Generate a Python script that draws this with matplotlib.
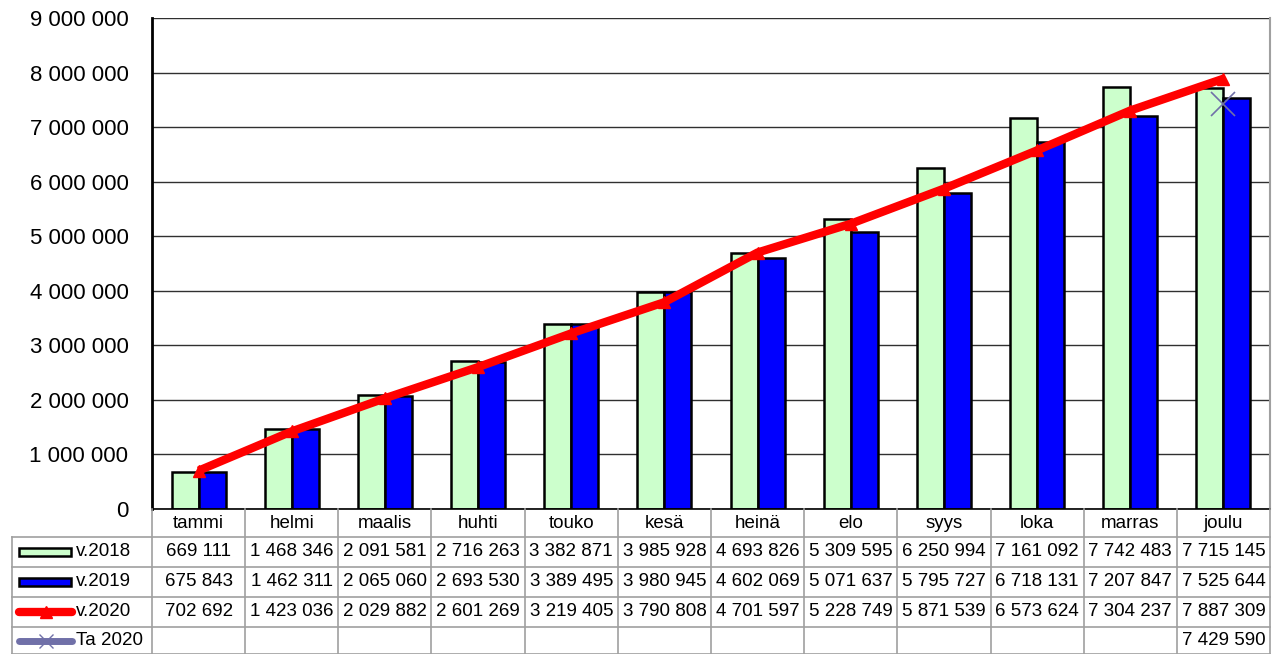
"""
Kumulatiivinen kuukausikertymä v.2018-2020 pylväs- ja viivakaaviona,
Excel-tyylinen datataulukko kaavion alla.
"""
import matplotlib.pyplot as plt
from matplotlib.lines import Line2D
from matplotlib.patches import Rectangle
from matplotlib.transforms import blended_transform_factory

months = ["tammi", "helmi", "maalis", "huhti", "touko", "kesä",
          "heinä", "elo", "syys", "loka", "marras", "joulu"]
v2018 = [669111, 1468346, 2091581, 2716263, 3382871, 3985928,
         4693826, 5309595, 6250994, 7161092, 7742483, 7715145]
v2019 = [675843, 1462311, 2065060, 2693530, 3389495, 3980945,
         4602069, 5071637, 5795727, 6718131, 7207847, 7525644]
v2020 = [702692, 1423036, 2029882, 2601269, 3219405, 3790808,
         4701597, 5228749, 5871539, 6573624, 7304237, 7887309]
ta2020_month = 11
ta2020_value = 7429590

W, H = 1279, 654
C18 = "#CCFFCC"
C19 = "#0000FF"
C20 = "#FF0000"
CTA = "#7070A8"
GRID = "#A0A0A0"

plt.rcParams["font.family"] = ["Liberation Sans", "DejaVu Sans"]


def fmt(v):
    return f"{v:,}".replace(",", " ")


def fx(px):
    return px / W


def fy(py):
    return 1 - py / H


fig = plt.figure(figsize=(W / 100, H / 100), dpi=100)
ax = fig.add_axes([fx(152), fy(509), fx(1270) - fx(152), fy(18) - fy(509)])

x = list(range(len(months)))
bw = 0.29
ax.bar([i - bw / 2 for i in x], v2018, width=bw, color=C18,
       edgecolor="black", linewidth=1.8, zorder=2)
ax.bar([i + bw / 2 for i in x], v2019, width=bw, color=C19,
       edgecolor="black", linewidth=1.8, zorder=2)
ax.plot(x, v2020, color=C20, linewidth=6, marker="^", markersize=9,
        solid_capstyle="butt", zorder=3)
ax.plot([ta2020_month], [ta2020_value], linestyle="none", marker="x",
        markersize=17, markeredgewidth=1.2, color=CTA, zorder=4)

ax.set_xlim(-0.5, len(months) - 0.5)
ax.set_ylim(0, 9000000)
ax.set_yticks(range(0, 9000001, 1000000))
ax.set_yticklabels([fmt(v) for v in range(0, 9000001, 1000000)], fontsize=16)
ax.tick_params(axis="y", length=0, pad=17)
ax.set_xticks([])
ax.grid(axis="y", color="#303030", linewidth=1.0, zorder=0)
ax.spines["left"].set_linewidth(2.0)
ax.spines["left"].set_color("black")
ax.spines["top"].set_visible(False)
ax.spines["bottom"].set_color("black")
ax.spines["bottom"].set_linewidth(1.2)
ax.spines["right"].set_color(GRID)
ax.spines["right"].set_linewidth(1.5)

# Datataulukko kaavion alla
tr = blended_transform_factory(ax.transData, fig.transFigure)
rows = [509, 537, 567, 597, 627, 654]
fs = 13.5

# vaakaviivat
for ry in rows[1:]:
    fig.add_artist(Line2D([fx(12), fx(1270)], [fy(ry), fy(ry)],
                          color=GRID, linewidth=1.2))
# pystyviivat
for b in [i - 0.5 for i in range(len(months) + 1)]:
    fig.add_artist(Line2D([b, b], [fy(rows[0]), fy(rows[-1])],
                          color=GRID, linewidth=1.2, transform=tr))
fig.add_artist(Line2D([fx(12), fx(12)], [fy(rows[1]), fy(rows[-1])],
                      color=GRID, linewidth=1.2))

mid = [(rows[k] + rows[k + 1]) / 2 for k in range(len(rows) - 1)]
for i, m in enumerate(months):
    fig.text(i, fy(mid[0]), m, transform=tr, ha="center", va="center", fontsize=fs)

series = [v2018, v2019, v2020]
for r, vals in enumerate(series, start=1):
    for i, v in enumerate(vals):
        fig.text(i, fy(mid[r]), fmt(v), transform=tr, ha="center",
                 va="center", fontsize=fs)
fig.text(ta2020_month, fy(mid[4]), fmt(ta2020_value), transform=tr,
         ha="center", va="center", fontsize=fs)

# legendasymbolit vasemmassa sarakkeessa
names = ["v.2018", "v.2019", "v.2020", "Ta 2020"]
for r, name in enumerate(names, start=1):
    yc = fy(mid[r])
    if r == 1:
        fig.add_artist(Rectangle((fx(19), yc - 4 / H), fx(52), 8 / H,
                                 facecolor=C18, edgecolor="black", linewidth=1.8))
    elif r == 2:
        fig.add_artist(Rectangle((fx(19), yc - 4 / H), fx(52), 8 / H,
                                 facecolor=C19, edgecolor="black", linewidth=1.8))
    elif r == 3:
        fig.add_artist(Line2D([fx(19), fx(72)], [yc, yc], color=C20,
                              linewidth=6, solid_capstyle="round"))
        fig.add_artist(Line2D([fx(45.5)], [yc], color=C20, marker="^",
                              markersize=9, linestyle="none"))
    else:
        fig.add_artist(Line2D([fx(19), fx(72)], [yc, yc], color=CTA,
                              linewidth=5.0, solid_capstyle="round"))
        fig.add_artist(Line2D([fx(45.5)], [yc], color=CTA, marker="x",
                              markersize=10, markeredgewidth=1.0, linestyle="none"))
    fig.text(fx(76), yc, name, ha="left", va="center", fontsize=fs)

fig.savefig("out.png", dpi=100)
